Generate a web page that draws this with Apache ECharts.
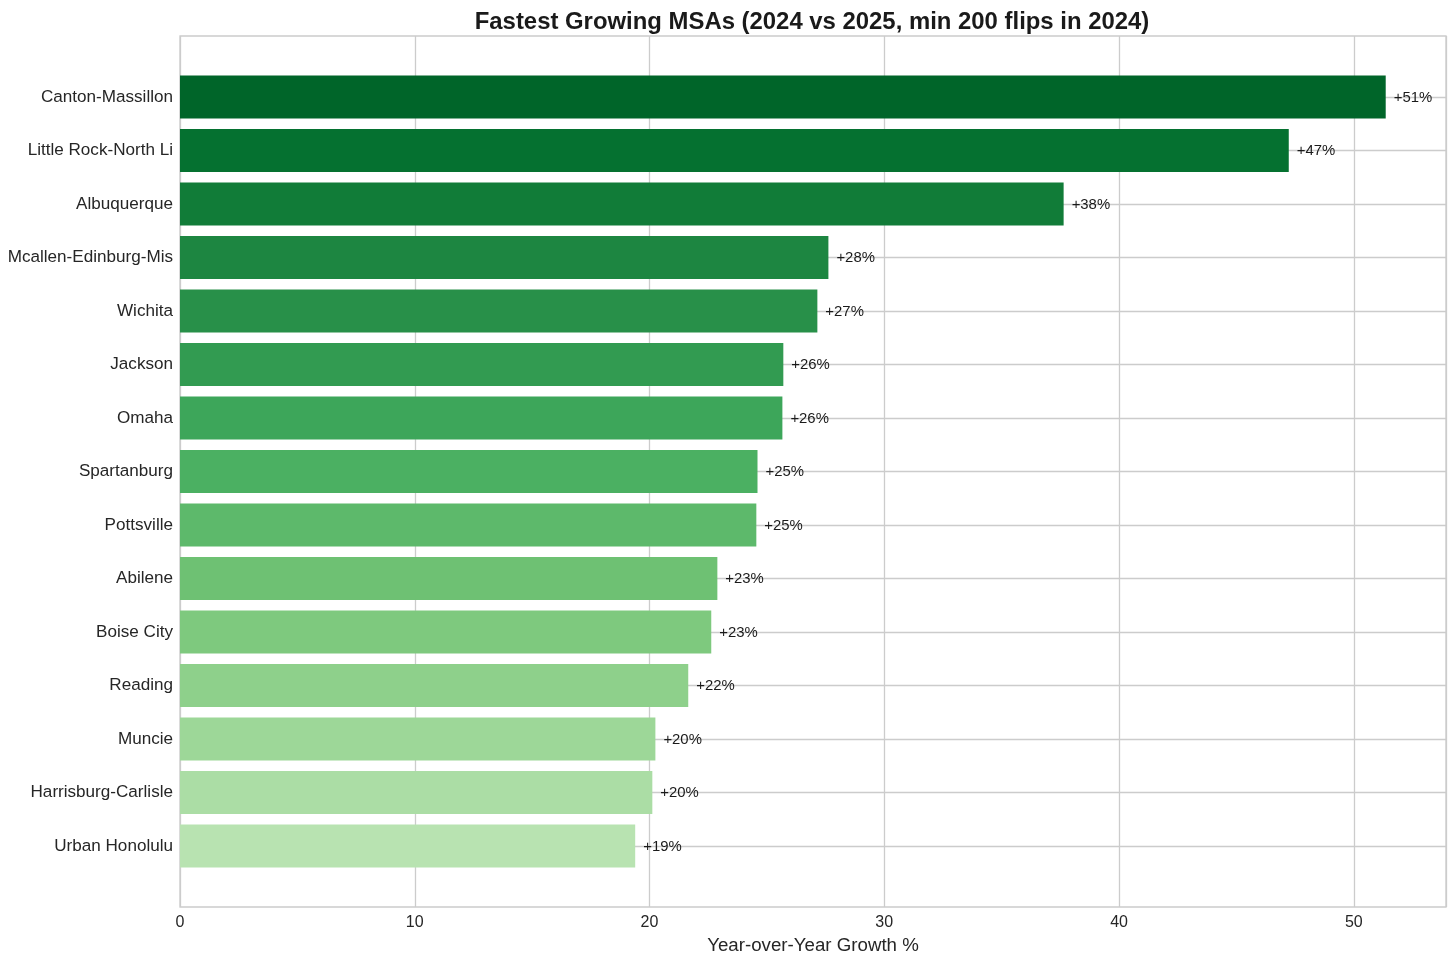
<!DOCTYPE html>
<html>
<head>
<meta charset="utf-8">
<script src="https://cdn.jsdelivr.net/npm/echarts@6/dist/echarts.min.js"></script>
<style>
html,body{margin:0;padding:0;background:#fff;}
#chart{width:1456px;height:961px;}
</style>
</head>
<body>
<div id="chart"></div>
<script>
const categories = ["Canton-Massillon","Little Rock-North Li","Albuquerque","Mcallen-Edinburg-Mis","Wichita","Jackson","Omaha","Spartanburg","Pottsville","Abilene","Boise City","Reading","Muncie","Harrisburg-Carlisle","Urban Honolulu"];
const growth = [51.36,47.23,37.64,27.62,27.15,25.70,25.66,24.60,24.55,22.89,22.63,21.65,20.25,20.12,19.39];
const xTicks = [0,10,20,30,40,50];
const titleText = "Fastest Growing MSAs (2024 vs 2025, min 200 flips in 2024)";
const xName = "Year-over-Year Growth %";

// Greens colormap anchors
const greens = ["#f7fcf5","#e5f5e0","#c7e9c0","#a1d99b","#74c476","#41ab5d","#238b45","#006d2c","#00441b"];
function hexToRgb(h){return [parseInt(h.slice(1,3),16),parseInt(h.slice(3,5),16),parseInt(h.slice(5,7),16)];}
function cmap(t){
  const s = t*(greens.length-1); const i = Math.min(Math.floor(s), greens.length-2); const f = s-i;
  const a = hexToRgb(greens[i]), b = hexToRgb(greens[i+1]);
  return 'rgb(' + a.map((v,k)=>Math.round(v+(b[k]-v)*f)).join(',') + ')';
}
const n = categories.length;
const barColors = categories.map((c,k)=>cmap(0.9 - 0.6*k/(n-1)));

const xMax = Math.max(...growth)*1.05;
const seriesData = growth.map((v,i)=>[v,i]);

const chart = echarts.init(document.getElementById('chart'), null, {renderer:'canvas'});
const font = "'Liberation Sans', Arial, sans-serif";
const gridColor = '#cccccc';

const option = {
  backgroundColor:'#ffffff',
  animation:false,
  title:{
    text:titleText, left:807, top:5, textAlign:'center',
    textStyle:{fontFamily:font, fontSize:23.9, fontWeight:'bold', color:'#1a1a1a'}
  },
  grid:[
    {left:180, right:10, top:36, bottom:54, show:true, borderColor:gridColor, borderWidth:1.3, backgroundColor:'transparent'},
    {left:180, right:10, top:43.49, bottom:61.49}
  ],
  xAxis:[
    {gridIndex:0, type:'value', min:0, max:xMax, interval:10,
     axisLine:{show:false}, axisTick:{show:false},
     axisLabel:{fontFamily:font, fontSize:16, color:'#262626', margin:8, showMaxLabel:false,
       formatter:v=> xTicks.includes(v) ? String(v) : ''},
     splitLine:{show:true, lineStyle:{color:gridColor, width:1.3}},
     name:xName, nameLocation:'middle', nameGap:27,
     nameTextStyle:{fontFamily:font, fontSize:18.7, color:'#262626'}},
    {gridIndex:1, type:'value', min:0, max:xMax, show:false}
  ],
  yAxis:[
    {gridIndex:0, type:'value', show:false},
    {gridIndex:1, type:'value', min:-1, max:n, interval:1, inverse:true,
     axisLine:{show:false}, axisTick:{show:false},
     axisLabel:{fontFamily:font, fontSize:17.1, color:'#262626', margin:7, lineHeight:20, padding:[3,0,0,0],
       formatter:v=> (v>=0 && v<n) ? categories[v] : ''},
     splitLine:{show:true, showMinLine:false, showMaxLine:false, lineStyle:{color:gridColor, width:1.3}}}
  ],
  series:[{
    type:'custom', xAxisIndex:1, yAxisIndex:1, z:5,
    data:seriesData,
    renderItem:function(params, api){
      const v = api.value(0), i = api.value(1);
      const p0 = api.coord([0,i]);
      const p1 = api.coord([v,i]);
      const h = api.size([0,0.8])[1];
      return {type:'group', children:[
        {type:'rect', shape:{x:p0[0], y:p0[1]-h/2, width:p1[0]-p0[0], height:h},
         style:{fill:barColors[params.dataIndex]}},
        {type:'text', x:p1[0]+8, y:p1[1]+0.5,
         style:{text:'+'+Math.round(v)+'%', fontFamily:font, fontSize:14.9, fill:'#1a1a1a',
                textAlign:'left', textVerticalAlign:'middle'}}
      ]};
    }
  }]
};
chart.setOption(option);
</script>
</body>
</html>
